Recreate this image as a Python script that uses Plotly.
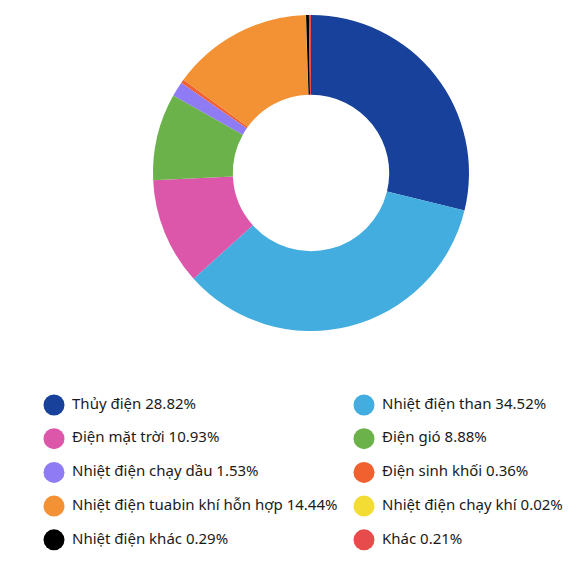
import plotly.graph_objects as go

categories = ["Thủy điện", "Nhiệt điện than", "Điện mặt trời", "Điện gió",
              "Nhiệt điện chạy dầu", "Điện sinh khối", "Nhiệt điện tuabin khí hỗn hợp",
              "Nhiệt điện chạy khí", "Nhiệt điện khác", "Khác"]
values = [28.82, 34.52, 10.93, 8.88, 1.53, 0.36, 14.44, 0.02, 0.29, 0.21]
colors = ["#17419a", "#43ade0", "#dc56a9", "#6cb24a", "#8f7bf4", "#f1602f",
          "#f39235", "#f3dd35", "#000000", "#e84b4b"]
labels_text = [f"\u00a0{c} {v:.2f}%" for c, v in zip(categories, values)]

W, H = 585, 564
cx, cy, R = 311, 173, 158

fig = go.Figure()
fig.add_trace(go.Pie(
    labels=categories, values=values, sort=False, direction="clockwise", rotation=0,
    hole=0.495, marker=dict(colors=colors, line=dict(width=0)),
    textinfo="none", hoverinfo="label+percent", showlegend=False,
    domain=dict(x=[(cx - R) / W, (cx + R) / W], y=[(H - cy - R) / H, (H - cy + R) / H]),
))

# legend drawn as scatter in pixel-like axes
col_x = [54, 364]
row_y0, row_dy = 405, 33.7
xs = [col_x[i % 2] for i in range(len(categories))]
ys = [row_y0 + (i // 2) * row_dy for i in range(len(categories))]
fig.add_trace(go.Scatter(
    x=xs, y=ys, mode="markers+text", text=labels_text, textposition="middle right",
    marker=dict(size=21, color=colors, line=dict(width=0)),
    textfont=dict(family="Noto Sans", size=15, color="#1a1a1a"),
    hoverinfo="skip", showlegend=False, cliponaxis=False,
))

fig.update_layout(
    width=W, height=H, margin=dict(l=0, r=0, t=0, b=0),
    paper_bgcolor="white", plot_bgcolor="rgba(0,0,0,0)",
    xaxis=dict(range=[0, W], visible=False, fixedrange=True),
    yaxis=dict(range=[H, 0], visible=False, fixedrange=True),
    font=dict(family="Noto Sans"),
)
fig.write_html("out.html")
